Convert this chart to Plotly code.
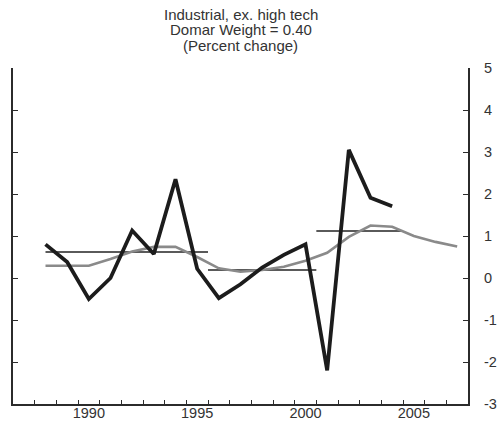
import plotly.graph_objects as go

# Annual growth, percent change
years = list(range(1988, 2005))
growth = [0.80, 0.38, -0.50, 0.00, 1.13, 0.57, 2.35, 0.22, -0.48,
          -0.15, 0.25, 0.55, 0.80, -2.20, 3.05, 1.91, 1.71]

# Smoothed trend
trend_years = list(range(1988, 2008))
trend = [0.29, 0.29, 0.29, 0.45, 0.63, 0.74, 0.74, 0.50, 0.23, 0.15,
         0.19, 0.27, 0.41, 0.60, 0.98, 1.25, 1.22, 1.00, 0.86, 0.75]

# Period averages: (start, end, mean)
period_start = [1988.0, 1995.5, 2000.5]
period_end = [1995.5, 2000.5, 2004.5]
period_mean = [0.62, 0.19, 1.12]

xtick_labels = [1990, 1995, 2000, 2005]
ytick_values = [-3, -2, -1, 0, 1, 2, 3, 4, 5]
title_lines = ["Industrial, ex. high tech", "Domar Weight = 0.40", "(Percent change)"]

FONT = "Liberation Sans, Arial, Helvetica, sans-serif"
AXIS = "#2b2b2b"

fig = go.Figure()

for s, e, m in zip(period_start, period_end, period_mean):
    fig.add_trace(go.Scatter(x=[s, e], y=[m, m], mode="lines",
                             line=dict(color="#5a5a5a", width=2),
                             showlegend=False, hoverinfo="skip"))

fig.add_trace(go.Scatter(x=trend_years, y=trend, mode="lines",
                         line=dict(color="#8a8a8a", width=2.6),
                         showlegend=False))

fig.add_trace(go.Scatter(x=years, y=growth, mode="lines",
                         line=dict(color="#1c1c1c", width=3.8),
                         showlegend=False))

for i, t in enumerate(title_lines):
    fig.add_annotation(text=t, xref="paper", yref="paper", x=0.5,
                       y=1, yshift=54 - 15.5 * i, yanchor="middle",
                       showarrow=False,
                       font=dict(family=FONT, size=15, color="#333333"))

fig.update_layout(
    width=503, height=425,
    margin=dict(l=13, r=35, t=68, b=21, autoexpand=False),
    paper_bgcolor="white", plot_bgcolor="white",
    font=dict(family=FONT, size=14.5, color="#333333"),
    xaxis=dict(
        range=[1986.5, 2007.5], automargin=False,
        tickmode="array", tickvals=xtick_labels,
        ticktext=[str(v) for v in xtick_labels],
        ticks="", showgrid=False, zeroline=False,
        showline=True, linecolor=AXIS, linewidth=2,
        ticklabelstandoff=-5,
        minor=dict(tickmode="array",
                   tickvals=[y + 0.5 for y in range(1987, 2007)],
                   ticks="inside", ticklen=4, tickwidth=1, tickcolor=AXIS,
                   showgrid=False),
    ),
    yaxis=dict(
        range=[-3, 5], side="right", automargin=False,
        tickmode="array", tickvals=ytick_values,
        ticktext=[str(v) for v in ytick_values],
        ticks="inside", ticklen=5, tickwidth=1, tickcolor=AXIS,
        showgrid=False, zeroline=False,
        showline=True, linecolor=AXIS, linewidth=2, mirror="ticks",
        ticklabelstandoff=11,
    ),
)

fig.write_html("out.html")
